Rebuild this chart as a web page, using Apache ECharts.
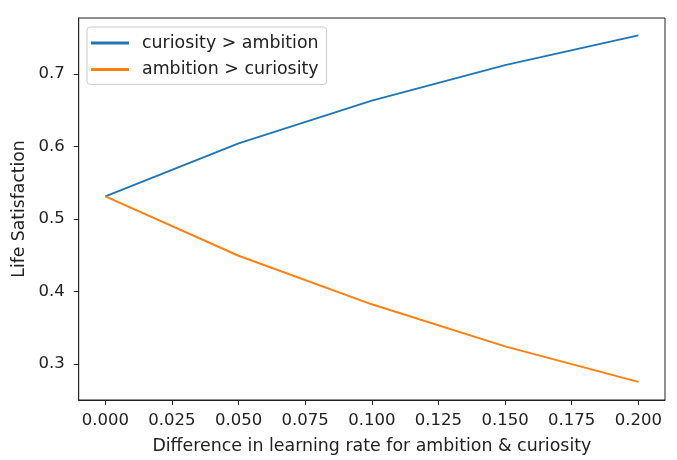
<!DOCTYPE html>
<html>
<head>
<meta charset="utf-8">
<script src="https://cdn.jsdelivr.net/npm/echarts@6/dist/echarts.min.js"></script>
<style>html,body{margin:0;padding:0;background:#fff;}#c{width:677px;height:460px;}</style>
</head>
<body>
<div id="c"></div>
<script>
var xValues = [0.0, 0.05, 0.10, 0.15, 0.20];
var curiosityOverAmbition = [0.531, 0.604, 0.663, 0.712, 0.753];
var ambitionOverCuriosity = [0.531, 0.449, 0.382, 0.324, 0.275];
var xTicks = [0, 0.025, 0.05, 0.075, 0.1, 0.125, 0.15, 0.175, 0.2];
var yTicks = [0.3, 0.4, 0.5, 0.6, 0.7];
var seriesNames = ['curiosity > ambition', 'ambition > curiosity'];

var FONT = 'DejaVu Sans';
var chart = echarts.init(document.getElementById('c'), null, {renderer: 'canvas'});
function pairs(vals) { return xValues.map(function (x, i) { return [x, vals[i]]; }); }
chart.setOption({
  animation: false,
  backgroundColor: '#fff',
  grid: {left: 78.7, right: 12, top: 18, bottom: 60, outerBoundsMode: 'none', containLabel: false,
    show: true, borderColor: '#222', borderWidth: 1, backgroundColor: 'transparent'},
  legend: {
    orient: 'vertical', left: 87, top: 27,
    padding: [7, 8, 6, 4],
    itemGap: 8.4, itemWidth: 38, itemHeight: 3,
    icon: 'rect',
    borderColor: '#cccccc', borderWidth: 1, borderRadius: 3,
    backgroundColor: 'rgba(255,255,255,0.8)',
    textStyle: {fontFamily: FONT, fontSize: 17.4, color: '#222', lineHeight: 18, padding: [0, 0, 0, 8]},
    data: seriesNames
  },
  xAxis: {
    type: 'value', min: -0.01, max: 0.21,
    name: 'Difference in learning rate for ambition & curiosity',
    nameLocation: 'middle', nameGap: 38,
    nameTextStyle: {fontFamily: FONT, fontSize: 17.4, color: '#222'},
    axisLine: {show: true, onZero: false, lineStyle: {color: '#222', width: 1}},
    axisTick: {show: true, length: 5, lineStyle: {color: '#222'}, customValues: xTicks},
    axisLabel: {fontFamily: FONT, fontSize: 16.5, color: '#222', margin: 12, customValues: xTicks,
      formatter: function (v) { return v.toFixed(3); }},
    splitLine: {show: false}
  },
  yAxis: {
    type: 'value', min: 0.25, max: 0.777,
    name: 'Life Satisfaction',
    nameLocation: 'middle', nameGap: 46,
    nameTextStyle: {fontFamily: FONT, fontSize: 17.2, color: '#222'},
    axisLine: {show: true, onZero: false, lineStyle: {color: '#222', width: 1}},
    axisTick: {show: true, length: 5, lineStyle: {color: '#222'}, customValues: yTicks},
    axisLabel: {fontFamily: FONT, fontSize: 16.5, color: '#222', margin: 14, customValues: yTicks,
      formatter: function (v) { return v.toFixed(1); }},
    splitLine: {show: false}
  },
  series: [
    {name: seriesNames[0], type: 'line', data: pairs(curiosityOverAmbition), showSymbol: false, symbol: 'none',
      itemStyle: {color: '#1f77b4'}, lineStyle: {color: '#1f77b4', width: 2}},
    {name: seriesNames[1], type: 'line', data: pairs(ambitionOverCuriosity), showSymbol: false, symbol: 'none',
      itemStyle: {color: '#ff7f0e'}, lineStyle: {color: '#ff7f0e', width: 2}}
  ]
});
</script>
</body>
</html>
